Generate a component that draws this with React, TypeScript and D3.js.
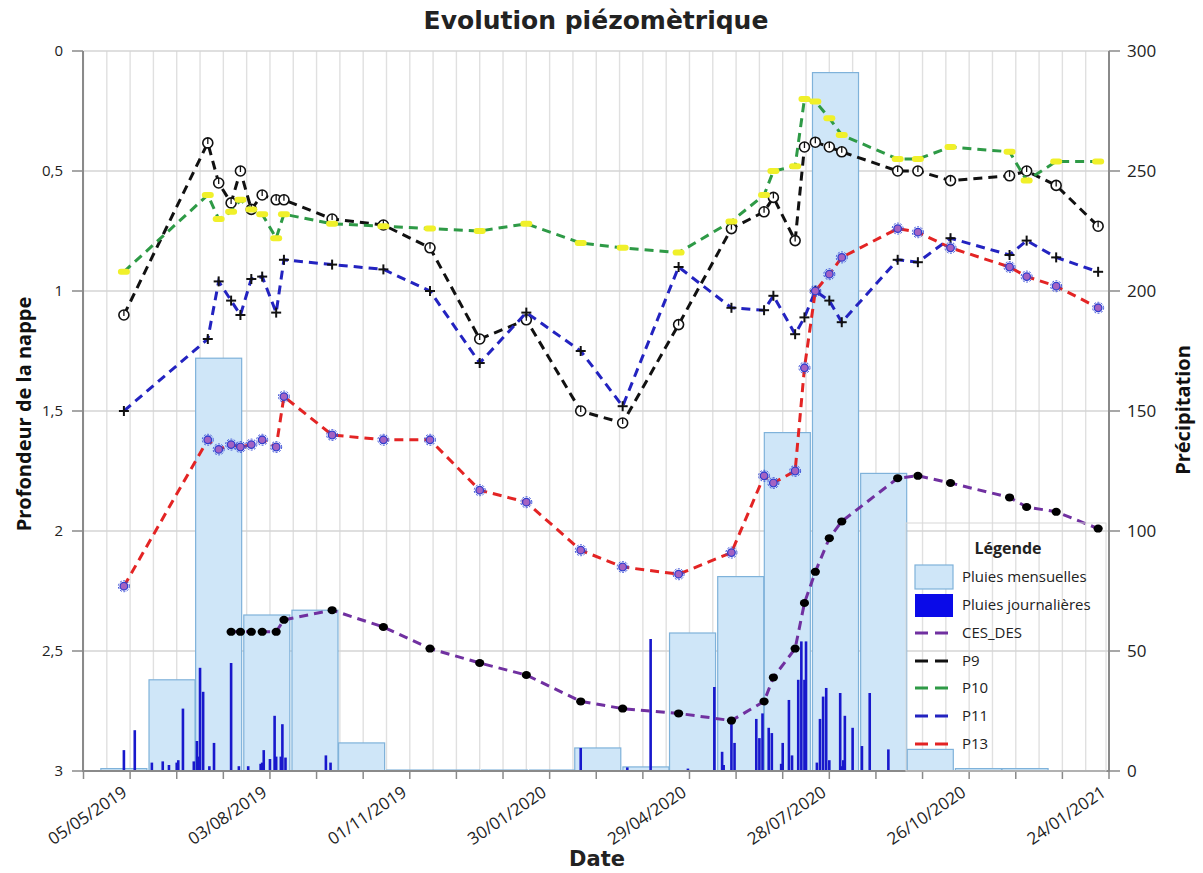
import React from "react";
import * as d3 from "d3";

// Dates of the piezometric readings (shared by every well)
const readingDates = [
  "2019-05-01", "2019-06-24", "2019-07-01", "2019-07-09", "2019-07-15", "2019-07-22",
  "2019-07-29", "2019-08-07", "2019-08-12", "2019-09-12", "2019-10-15", "2019-11-14",
  "2019-12-16", "2020-01-15", "2020-02-19", "2020-03-17", "2020-04-22", "2020-05-26",
  "2020-06-16", "2020-06-22", "2020-07-06", "2020-07-12", "2020-07-19", "2020-07-28",
  "2020-08-05", "2020-09-10", "2020-09-23", "2020-10-14", "2020-11-21", "2020-12-02",
  "2020-12-21", "2021-01-17",
];

// Water table depth (m) per well
const cesDes = [null, null, null, 2.42, 2.42, 2.42, 2.42, 2.42, 2.37, 2.33, 2.40, 2.49, 2.55, 2.60, 2.71, 2.74, 2.76, 2.79, 2.71, 2.61, 2.49, 2.30, 2.17, 2.03, 1.96, 1.78, 1.77, 1.80, 1.86, 1.90, 1.92, 1.99];
const p9 = [1.10, 0.383, 0.55, 0.633, 0.50, 0.66, 0.60, 0.62, 0.62, 0.70, 0.725, 0.82, 1.20, 1.12, 1.50, 1.55, 1.14, 0.74, 0.67, 0.61, 0.79, 0.40, 0.38, 0.40, 0.42, 0.50, 0.50, 0.54, 0.52, 0.50, 0.56, 0.73];
const p10 = [0.92, 0.60, 0.70, 0.67, 0.62, 0.66, 0.68, 0.78, 0.68, 0.72, 0.73, 0.74, 0.75, 0.72, 0.80, 0.82, 0.84, 0.71, 0.60, 0.50, 0.48, 0.20, 0.21, 0.28, 0.35, 0.45, 0.45, 0.40, 0.42, 0.54, 0.46, 0.46];
const p11 = [1.50, 1.20, 0.96, 1.04, 1.10, 0.95, 0.94, 1.09, 0.87, 0.89, 0.91, 1.00, 1.30, 1.09, 1.25, 1.48, 0.90, 1.07, 1.08, 1.02, 1.18, 1.11, 1.00, 1.04, 1.13, 0.87, 0.88, 0.78, 0.85, 0.79, 0.86, 0.92];
const p13 = [2.23, 1.62, 1.66, 1.64, 1.65, 1.64, 1.62, 1.65, 1.44, 1.60, 1.62, 1.62, 1.83, 1.88, 2.08, 2.15, 2.18, 2.09, 1.77, 1.80, 1.75, 1.32, 1.00, 0.93, 0.86, 0.74, 0.755, 0.82, 0.90, 0.94, 0.98, 1.07];

// Monthly rainfall (mm), dated on the first of the month
const monthDates = [
  "2019-05-01", "2019-06-01", "2019-07-01", "2019-08-01", "2019-09-01", "2019-10-01",
  "2019-11-01", "2019-12-01", "2020-01-01", "2020-02-01", "2020-03-01", "2020-04-01",
  "2020-05-01", "2020-06-01", "2020-07-01", "2020-08-01", "2020-09-01", "2020-10-01",
  "2020-11-01", "2020-12-01",
];
const monthlyRain = [1, 38, 172, 65, 67, 11.7, 0.4, 0.4, 0.4, 0.4, 9.6, 1.7, 57.5, 81, 141, 291, 124, 9, 1, 1];

// Daily rainfall (mm)
const dayDates = [
  "2019-05-01", "2019-05-08", "2019-05-19", "2019-05-26", "2019-05-30", "2019-06-04",
  "2019-06-05", "2019-06-08", "2019-06-15", "2019-06-17", "2019-06-18", "2019-06-19",
  "2019-06-21", "2019-06-25", "2019-06-28", "2019-07-09", "2019-07-14", "2019-07-20",
  "2019-07-28", "2019-07-29", "2019-07-30", "2019-08-03", "2019-08-06", "2019-08-07",
  "2019-08-10", "2019-08-11", "2019-08-13", "2019-09-08", "2019-09-11",
  "2020-02-19", "2020-03-20", "2020-04-04", "2020-04-28", "2020-05-15", "2020-05-20",
  "2020-05-21", "2020-05-26", "2020-05-28", "2020-06-11", "2020-06-13", "2020-06-15",
  "2020-06-19", "2020-06-21", "2020-06-27", "2020-06-28", "2020-07-02", "2020-07-04",
  "2020-07-08", "2020-07-10", "2020-07-12", "2020-07-13", "2020-07-20", "2020-07-22",
  "2020-07-24", "2020-07-26", "2020-07-28", "2020-08-04", "2020-08-05", "2020-08-06",
  "2020-08-07", "2020-08-12", "2020-08-18", "2020-08-23", "2020-09-04",
];
const dailyRain = [
  8.7, 17, 3.5, 4, 2.5, 3.5,
  4.5, 26, 4, 12.5, 6, 43,
  33, 2, 11.7, 45, 2, 2,
  3, 3.5, 8.7, 5, 23, 6,
  6, 19.5, 5.6, 6.5, 3.5,
  9.6, 1.5, 55, 1, 35, 8,
  2.5, 22, 11.7, 21.7, 13.7, 24,
  18, 15.8, 3, 11.7, 29.6, 6.5,
  38, 54, 38, 54, 3.5, 21.7,
  31, 34.6, 4.5, 32.5, 2, 4.5,
  23, 18, 10.4, 32.5, 9,
];

// Axis labels
const xTickLabels = ["05/05/2019", "03/08/2019", "01/11/2019", "30/01/2020", "29/04/2020", "28/07/2020", "26/10/2020", "24/01/2021"];
const depthTicks = [0, 0.5, 1, 1.5, 2, 2.5, 3];
const depthTickLabels = ["0", "0,5", "1", "1,5", "2", "2,5", "3"];
const rainTicks = [0, 50, 100, 150, 200, 250, 300];
const rainTickLabels = ["0", "50", "100", "150", "200", "250", "300"];

const seriesNames = ["CES_DES", "P9", "P10", "P11", "P13"];

const W = 1203;
const H = 873;
const FONT = "'Open Sans', 'Noto Sans', sans-serif";
const WIDE_FONT = "'DejaVu Sans', Verdana, sans-serif";

const parse = d3.utcParse("%Y-%m-%d");
const parseFr = d3.utcParse("%d/%m/%Y");
const start = parse("2019-04-05")!;
const end = parse("2021-01-24")!;

const x = d3.scaleUtc().domain([start, end]).range([83.5, 1109]);
const yDepth = d3.scaleLinear().domain([0, 3]).range([51, 771]);
const yRain = d3.scaleLinear().domain([0, 300]).range([771, 51]);

const colors: Record<string, string> = {
  CES_DES: "#7030a0",
  P9: "#111111",
  P10: "#2e9a46",
  P11: "#2323c0",
  P13: "#e32424",
};

const readings = readingDates.map((d) => parse(d)!);
const seriesValues: Record<string, (number | null)[]> = {
  CES_DES: cesDes,
  P9: p9,
  P10: p10,
  P11: p11,
  P13: p13,
};

type Pt = { d: Date; v: number | null };

const lineGen = d3
  .line<Pt>()
  .defined((p) => p.v != null)
  .x((p) => x(p.d))
  .y((p) => yDepth(p.v as number));

function Marker({ name, cx, cy }: { name: string; cx: number; cy: number }) {
  if (name === "CES_DES") {
    return <ellipse cx={cx} cy={cy} rx={4.6} ry={4} fill="#000" />;
  }
  if (name === "P9") {
    return (
      <g>
        <circle cx={cx} cy={cy} r={5} fill="#fff" stroke="#111" strokeWidth={1.6} />
        <line x1={cx} y1={cy - 5} x2={cx} y2={cy + 1} stroke="#111" strokeWidth={1.3} />
      </g>
    );
  }
  if (name === "P10") {
    return <rect x={cx - 6} y={cy - 3} width={12} height={6} rx={3} fill="#f0f02a" />;
  }
  if (name === "P11") {
    return (
      <g stroke="#111" strokeWidth={2}>
        <line x1={cx - 5} y1={cy} x2={cx + 5} y2={cy} />
        <line x1={cx} y1={cy - 5} x2={cx} y2={cy + 5} />
      </g>
    );
  }
  // P13
  return (
    <g>
      <circle cx={cx} cy={cy} r={5.5} fill="none" stroke="#3b4fd8" strokeWidth={1} strokeDasharray="2,1.5" />
      <circle cx={cx} cy={cy} r={3.8} fill="#a462c2" stroke="#2f3fd0" strokeWidth={1.3} />
    </g>
  );
}

export default function App() {
  const gridDays = d3.range(0, 661, 15).map((k) => d3.utcDay.offset(start, k));
  const tickDays = d3.range(0, 661, 30).map((k) => d3.utcDay.offset(start, k));
  const xLabelDates = xTickLabels.map((s) => parseFr(s)!);

  const halfMonth = 14.8;
  const legendY = [577, 605, 633, 661, 688, 716, 744];

  return (
    <svg
      width={W}
      height={H}
      viewBox={`0 0 ${W} ${H}`}
      style={{ position: "absolute", left: 0, top: 0, background: "#fff" }}
      fontFamily={FONT}
    >
      <rect x={0} y={0} width={W} height={H} fill="#fff" />

      {/* vertical gridlines */}
      {gridDays.map((d, i) => (
        <line key={"vg" + i} x1={x(d)} x2={x(d)} y1={51} y2={771} stroke="#e0e0e0" strokeWidth={1.4} />
      ))}
      {/* horizontal gridlines */}
      {depthTicks.map((t) => (
        <line key={"hg" + t} x1={83.5} x2={1109} y1={yDepth(t)} y2={yDepth(t)} stroke="#d4d4d4" strokeWidth={1.3} />
      ))}

      {/* monthly rainfall */}
      {monthDates.map((s, i) => {
        const d = parse(s)!;
        const x0 = x(d3.utcHour.offset(d, -halfMonth * 24));
        const x1 = x(d3.utcHour.offset(d, halfMonth * 24));
        return (
          <rect
            key={"m" + i}
            x={x0}
            y={yRain(monthlyRain[i])}
            width={x1 - x0}
            height={yRain(0) - yRain(monthlyRain[i])}
            fill="#cfe6f8"
            stroke="#7fb2da"
            strokeWidth={1.2}
          />
        );
      })}

      {/* daily rainfall */}
      {dayDates.map((s, i) => {
        const cx = x(parse(s)!);
        return (
          <rect
            key={"d" + i}
            x={cx - 1.3}
            y={yRain(dailyRain[i])}
            width={2.6}
            height={yRain(0) - yRain(dailyRain[i])}
            fill="#1818cc"
          />
        );
      })}

      {/* axes */}
      <line x1={83} x2={83} y1={51} y2={772} stroke="#8a8a8a" strokeWidth={2} />
      <line x1={1109} x2={1109} y1={51} y2={772} stroke="#8a8a8a" strokeWidth={2} />
      <line x1={82} x2={1110} y1={771} y2={771} stroke="#8a8a8a" strokeWidth={2} />
      {depthTicks.map((t, i) => (
        <g key={"lt" + t}>
          <line x1={72} x2={83} y1={yDepth(t)} y2={yDepth(t)} stroke="#8a8a8a" strokeWidth={1.5} />
          <text x={63} y={yDepth(t)} dy="0.35em" textAnchor="end" fontSize={15} fill="#222">
            {depthTickLabels[i]}
          </text>
        </g>
      ))}
      {rainTicks.map((t, i) => (
        <g key={"rt" + t}>
          <line x1={1109} x2={1120} y1={yRain(t)} y2={yRain(t)} stroke="#8a8a8a" strokeWidth={1.5} />
          <text x={1127} y={yRain(t)} dy="0.35em" textAnchor="start" fontSize={17} fill="#222">
            {rainTickLabels[i]}
          </text>
        </g>
      ))}
      {tickDays.map((d, i) => (
        <line key={"xt" + i} x1={x(d)} x2={x(d)} y1={771} y2={779} stroke="#8a8a8a" strokeWidth={1.5} />
      ))}
      {xLabelDates.map((d, i) => (
        <text
          key={"xl" + i}
          transform={`translate(${x(d) - 2},${795}) rotate(-34)`}
          textAnchor="end"
          fontSize={17}
          fill="#222"
        >
          {xTickLabels[i]}
        </text>
      ))}

      {/* piezometric series */}
      {seriesNames.map((name) => {
        const pts: Pt[] = readings.map((d, i) => ({ d, v: seriesValues[name][i] }));
        return (
          <g key={name}>
            <path
              d={lineGen(pts) || ""}
              fill="none"
              stroke={colors[name]}
              strokeWidth={3}
              strokeDasharray="9,6"
            />
            {pts
              .filter((p) => p.v != null)
              .map((p, i) => (
                <Marker key={i} name={name} cx={x(p.d)} cy={yDepth(p.v as number)} />
              ))}
          </g>
        );
      })}

      {/* legend */}
      <rect x={906} y={523} width={200} height={248} fill="none" stroke="#d8d8d8" strokeWidth={1} />
      <text x={1008} y={548} dy="0.35em" textAnchor="middle" fontSize={16} fontWeight="bold" fill="#222">
        Légende
      </text>
      <rect x={915} y={565} width={38} height={24} fill="#cfe6f8" stroke="#7fb2da" strokeWidth={1.2} />
      <text x={962} y={legendY[0]} dy="0.35em" fontSize={15} fill="#222">
        Pluies mensuelles
      </text>
      <rect x={915} y={594} width={38} height={23} fill="#0a0ae8" />
      <text x={962} y={legendY[1]} dy="0.35em" fontSize={15} fill="#222">
        Pluies journalières
      </text>
      {seriesNames.map((name, i) => (
        <g key={"lg" + name}>
          <line
            x1={915}
            x2={948}
            y1={legendY[i + 2]}
            y2={legendY[i + 2]}
            stroke={colors[name]}
            strokeWidth={3}
            strokeDasharray="13,7"
          />
          <text x={962} y={legendY[i + 2]} dy="0.35em" fontSize={15} fill="#222">
            {name}
          </text>
        </g>
      ))}

      {/* titles */}
      <text
        x={596}
        y={20}
        dy="0.35em"
        textAnchor="middle"
        fontSize={25}
        fontWeight="bold"
        fill="#222"
        fontFamily={WIDE_FONT}
      >
        Evolution piézomètrique
      </text>
      <text
        transform={`translate(24,414) rotate(-90)`}
        textAnchor="middle"
        dy="0.35em"
        fontSize={20}
        fontWeight="bold"
        fill="#111"
      >
        Profondeur de la nappe
      </text>
      <text
        transform={`translate(1183,410) rotate(-90)`}
        textAnchor="middle"
        dy="0.35em"
        fontSize={20}
        fontWeight="bold"
        fill="#111"
      >
        Précipitation
      </text>
      <text
        x={597}
        y={859}
        dy="0.35em"
        textAnchor="middle"
        fontSize={21}
        fontWeight="bold"
        fill="#222"
        fontFamily={WIDE_FONT}
      >
        Date
      </text>
    </svg>
  );
}
